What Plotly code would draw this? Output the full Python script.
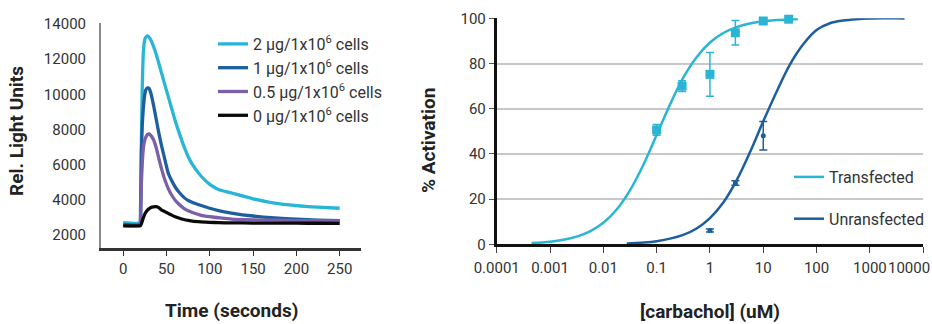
import plotly.graph_objects as go

# ---------------- Left chart: luminescence kinetics ----------------
time_s = [0, 19, 20, 21, 22, 23, 24, 25, 26, 28, 30, 32, 35, 38, 41, 44, 48, 52, 56, 60,
          65, 70, 75, 80, 90, 100, 110, 125, 150, 175, 200, 225, 250]
rlu_2ug = [2700, 2700, 3500, 7500, 10500, 12200, 12850, 13150, 13250, 13320, 13230, 13080, 12720,
           12280, 11780, 11250, 10550, 9870, 9180, 8500, 7750, 7050, 6450, 6000, 5340, 4880,
           4590, 4390, 4060, 3810, 3670, 3580, 3520]
rlu_1ug = [2600, 2600, 3400, 6800, 8300, 9100, 9650, 10050, 10250, 10370, 10330, 10050, 9380,
           8600, 7820, 7130, 6300, 5510, 5080, 4730, 4400, 4140, 3960, 3850, 3680, 3520,
           3390, 3250, 3080, 2970, 2900, 2850, 2810]
rlu_05ug = [2550, 2550, 3100, 5000, 6100, 6800, 7200, 7420, 7560, 7720, 7750, 7650, 7420,
            6980, 6380, 5800, 5140, 4640, 4260, 3980, 3720, 3520, 3380, 3280, 3120, 3040,
            2980, 2900, 2860, 2840, 2820, 2810, 2800]
rlu_0ug = [2520, 2520, 2540, 2650, 2800, 2950, 3080, 3200, 3290, 3420, 3500, 3560, 3600,
           3610, 3560, 3430, 3330, 3230, 3130, 3040, 2950, 2880, 2830, 2790, 2750, 2720,
           2700, 2690, 2680, 2675, 2670, 2668, 2665]
kin_names = ["2 µg/1x10<sup>6</sup> cells", "1 µg/1x10<sup>6</sup> cells",
             "0.5 µg/1x10<sup>6</sup> cells", "0 µg/1x10<sup>6</sup> cells"]
kin_colors = ["#29B6D6", "#1D5E9E", "#7B5FA8", "#0A0A0A"]
left_xticks = [0, 50, 100, 150, 200, 250]
left_yticks = [2000, 4000, 6000, 8000, 10000, 12000, 14000]
left_yticklabels = ["2000", "4000", "6000", "8000", "10000", "12000", "14000"]

# ---------------- Right chart: dose response ----------------
trans_conc = [0.1, 0.3, 1, 3, 10, 30]
trans_act = [50.6, 70.0, 75.2, 93.6, 98.8, 99.6]
trans_err = [2.4, 2.4, 9.7, 5.4, 1.0, 0.8]
untrans_conc = [1, 3, 10]
untrans_act = [6.1, 27.1, 48.0]
untrans_err = [0.7, 1.0, 6.3]

trans_fit_x = [0.00045, 0.001, 0.00178, 0.00316, 0.00562, 0.01, 0.0178, 0.0316, 0.0562, 0.1,
               0.178, 0.316, 0.562, 1, 1.78, 3.16, 5.62, 10, 17.8, 31.6, 44.7]
trans_fit_y = [0.55, 1.16, 2.0, 3.4, 5.7, 9.5, 15.4, 23.9, 35.1, 48.4,
               61.8, 73.7, 82.8, 89.3, 93.5, 96.1, 97.7, 98.7, 99.2, 99.55, 99.7]
untrans_fit_x = [0.0275, 0.1, 0.316, 0.562, 1, 1.78, 3.16, 5.62, 10, 17.8, 31.6, 56.2, 100,
                 178, 316, 562, 1000, 1780, 3160, 4470]
untrans_fit_y = [0.4, 1.4, 4.2, 7.0, 11.6, 18.5, 28.3, 40.7, 54.4, 67.5, 79.5, 88.5, 94.8,
                 97.8, 99.0, 99.6, 99.9, 100, 100, 99.9]
right_xticks = [0.0001, 0.001, 0.01, 0.1, 1, 10, 100, 1000, 10000]
right_xticklabels = ["0.0001", "0.001", "0.01", "0.1", "1", "10", "100", "1000", ""]
right_last_label = "10000"
right_yticks = [0, 20, 40, 60, 80, 100]
trans_color = "#2BB5D5"
untrans_color = "#1D5E9E"

W, H = 932, 324
FONT = "Roboto"

fig = go.Figure()

for y, name, col in zip([rlu_2ug, rlu_1ug, rlu_05ug, rlu_0ug], kin_names, kin_colors):
    fig.add_trace(go.Scatter(x=time_s, y=y, mode="lines", name=name,
                             line=dict(color=col, width=3.3, shape="spline", smoothing=0.5),
                             xaxis="x", yaxis="y", legend="legend"))

fig.add_trace(go.Scatter(x=trans_fit_x, y=trans_fit_y, mode="lines", name="Transfected",
                         line=dict(color=trans_color, width=2.5, shape="spline"),
                         xaxis="x2", yaxis="y2", legend="legend2", legendgroup="t",
                         cliponaxis=False))
fig.add_trace(go.Scatter(x=untrans_fit_x, y=untrans_fit_y, mode="lines", name="Unransfected",
                         line=dict(color=untrans_color, width=2.5, shape="spline"),
                         xaxis="x2", yaxis="y2", legend="legend2", legendgroup="u",
                         cliponaxis=False))
fig.add_trace(go.Scatter(x=trans_conc, y=trans_act, mode="markers", showlegend=False,
                         marker=dict(symbol="square", size=9, color=trans_color),
                         error_y=dict(type="data", array=trans_err, color=trans_color,
                                      thickness=1.5, width=4),
                         xaxis="x2", yaxis="y2", cliponaxis=False))
fig.add_trace(go.Scatter(x=untrans_conc, y=untrans_act, mode="markers", showlegend=False,
                         marker=dict(symbol="circle", size=5, color=untrans_color),
                         error_y=dict(type="data", array=untrans_err, color=untrans_color,
                                      thickness=1.5, width=4),
                         xaxis="x2", yaxis="y2", cliponaxis=False))

tickfont = dict(family=FONT, size=15, color="#333333")
titlefont = dict(family=FONT, size=19, color="#222222", weight="bold")

fig.update_layout(
    width=W, height=H, template="none",
    paper_bgcolor="white", plot_bgcolor="white",
    margin=dict(l=0, r=0, t=0, b=0),
    font=dict(family=FONT, size=15, color="#333333"),
    xaxis=dict(domain=[101 / W, 361 / W], range=[-25.7, 274.6], tickvals=left_xticks,
               showline=True, linecolor="#333333", linewidth=2.5, ticks="outside",
               ticklen=5, tickwidth=1.3, tickcolor="#333333", showgrid=False,
               zeroline=False, tickfont=tickfont, ticklabelstandoff=0, automargin=False,
               fixedrange=True),
    yaxis=dict(domain=[1 - 248 / H, 1 - 22.7 / H], range=[1260, 14075], tickvals=left_yticks,
               ticktext=left_yticklabels,
               showline=True, linecolor="#8C8C8C", linewidth=2, ticks="", showgrid=False,
               zeroline=False, tickfont=tickfont, ticklabelstandoff=10, automargin=False,
               fixedrange=True),
    xaxis2=dict(domain=[496.7 / W, 923.3 / W], type="log", range=[-4, 4.002],
                tickvals=right_xticks, ticktext=right_xticklabels, anchor="y2",
                showline=True, linecolor="#111111", linewidth=2.8, ticks="outside",
                ticklen=6, tickwidth=1.3, tickcolor="#444444", showgrid=False,
                zeroline=False, tickfont=tickfont, ticklabelstandoff=2, automargin=False,
                ticklabeloverflow="allow", fixedrange=True),
    yaxis2=dict(domain=[1 - 244.3 / H, 1 - 18.3 / H], range=[0, 100], tickvals=right_yticks,
                anchor="x2", showline=True, linecolor="#111111", linewidth=2.8,
                ticks="outside", ticklen=5, tickwidth=1.3, tickcolor="#555555",
                showgrid=True, gridcolor="#C8C8C8", gridwidth=1.5, zeroline=False,
                tickfont=tickfont, ticklabelstandoff=0, automargin=False, fixedrange=True),
    legend=dict(x=213 / W, y=1 - 27 / H, xanchor="left", yanchor="top",
                bgcolor="rgba(0,0,0,0)", borderwidth=0,
                font=dict(family=FONT, size=16, color="#333333")),
    legend2=dict(x=789 / W, y=1 - 160 / H, xanchor="left", yanchor="top",
                 bgcolor="rgba(0,0,0,0)", borderwidth=0, tracegroupgap=18,
                 font=dict(family=FONT, size=16, color="#333333")),
    annotations=[
        dict(text="Rel. Light Units", x=16 / W, y=1 - 131 / H, xref="paper", yref="paper",
             textangle=-90, showarrow=False, xanchor="center", yanchor="middle", font=titlefont),
        dict(text="Time (seconds)", x=231 / W, y=1 - 310 / H, xref="paper", yref="paper",
             showarrow=False, xanchor="center", yanchor="middle", font=titlefont),
        dict(text="% Activation", x=429 / W, y=1 - 141 / H, xref="paper", yref="paper",
             textangle=-90, showarrow=False, xanchor="center", yanchor="middle", font=titlefont),
        dict(text="[carbachol] (uM)", x=710 / W, y=1 - 311 / H, xref="paper", yref="paper",
             showarrow=False, xanchor="center", yanchor="middle", font=titlefont),
        dict(text=right_last_label, x=1.0, xref="paper", y=1 - 268 / H, yref="paper",
             showarrow=False, xanchor="right", yanchor="middle", font=tickfont),
    ],
)

fig.write_html("out.html", config={"displayModeBar": False},
               post_script="document.body.style.margin='0px';")
